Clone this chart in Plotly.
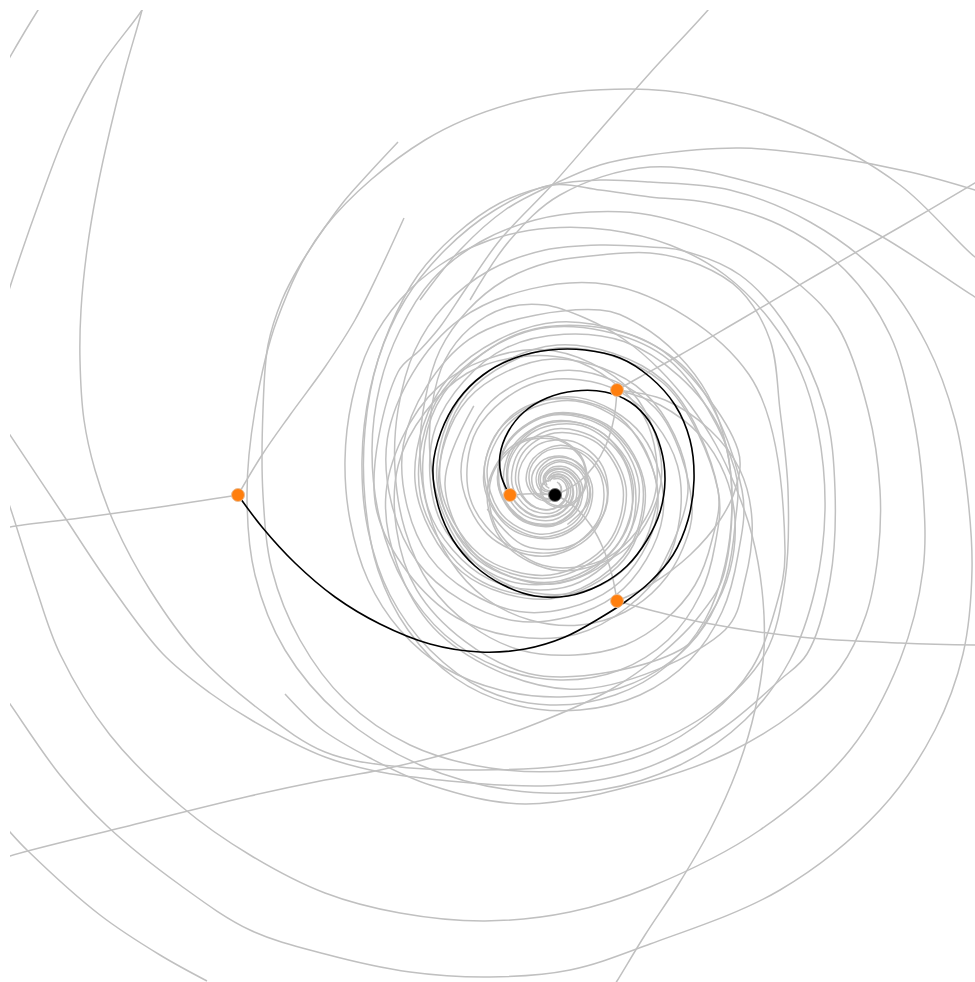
import math
import plotly.graph_objects as go

# Hub and highlighted stops (pixel-space data: x to the right, y downward)
HUB_X, HUB_Y = 555, 495
STOP_X = [238, 510, 617, 617]
STOP_Y = [495, 495, 390, 601]

# Highlighted route, winding inward from the outer stop
ROUTE_X = [238, 262, 295, 335, 380, 430, 480, 525, 565, 600, 625, 650, 673, 688, 694, 690, 675, 650,
           620, 585, 550, 515, 483, 458, 441, 433, 438, 453, 475, 503, 535, 568, 600, 627, 647, 660,
           665, 661, 649, 630, 605, 575, 547, 524, 508, 500, 501, 507]
ROUTE_Y = [495, 527, 563, 597, 624, 644, 652, 649, 637, 618, 602, 582, 555, 520, 480, 440, 405, 377,
           358, 350, 350, 358, 375, 400, 432, 467, 505, 540, 566, 585, 596, 596, 585, 566, 540, 512,
           480, 449, 421, 402, 392, 391, 398, 412, 432, 455, 475, 490]

# Short connectors from stops onto the route
LINK_X = [[617, 617], [617, 624]]
LINK_Y = [[390, 396], [601, 603]]

# Centre that the inner windings curl around
EYE_X, EYE_Y = 553, 485

# Gray trails: waypoints, then an optional inward winding
# (turn direction, radius every 45 degrees past the last waypoint)
TRAILS = [
    # top-left corner
    ([50, 38, 24, 10, 0], [-10, 10, 33, 57, 75], None),
    ([152, 142, 100, 67, 40, 10, 0], [-8, 10, 67, 130, 200, 287, 320], None),
    # long trail down the left side, into the 788 ring
    ([146, 142, 125, 110, 97, 87, 81, 80, 84, 95, 115, 150, 197, 260, 325, 400, 480, 560, 640,
      710, 765, 785, 788, 780, 770, 740, 700, 650, 600, 550, 505, 468, 440, 425, 420, 428, 450,
      485, 530, 580, 625, 660, 683, 692],
     [-10, 10, 70, 130, 190, 250, 310, 360, 420, 470, 525, 590, 654, 710, 752, 767, 770, 766, 748,
      712, 654, 580, 490, 410, 340, 290, 265, 253, 255, 262, 280, 310, 350, 400, 455, 510, 560,
      598, 620, 625, 612, 585, 548, 505],
     (1, [128, 116, 104, 93, 82, 72, 63, 55, 47, 40, 33, 27, 21, 16, 12, 8, 5])),
    # from the left edge, into the 835 ring
    ([0, 10, 60, 110, 163, 210, 253, 325, 380, 440, 500, 560, 640, 720, 780, 807, 830, 835, 825,
      787, 740, 680, 650, 600, 545, 490, 445, 415, 398, 395, 405, 430, 470, 520, 575, 625, 665,
      695, 712, 718],
     [420, 435, 510, 585, 654, 693, 721, 757, 772, 780, 785, 785, 770, 730, 680, 654, 580, 490, 410,
      327, 275, 250, 247, 245, 250, 270, 305, 350, 410, 470, 530, 585, 625, 650, 655, 645, 620,
      585, 540, 490],
     (1, [152, 140, 128, 116, 104, 93, 83, 73, 64, 56, 48, 41, 34, 28, 22, 17, 12, 8, 5])),
    # outer trail: left edge, bottom, up the 923 ring
    ([0, 10, 35, 60, 110, 182, 250, 325, 400, 485, 570, 650, 760, 850, 900, 923, 923, 912, 890,
      845, 780, 710, 650, 600, 552, 495, 445, 405, 378, 365, 365, 378, 408, 455, 515, 580, 640,
      690, 722, 738, 742],
     [480, 507, 585, 654, 735, 807, 855, 893, 913, 921, 912, 887, 830, 750, 660, 570, 490, 410, 335,
      270, 225, 203, 197, 190, 185, 210, 250, 300, 360, 430, 500, 570, 630, 678, 705, 710, 695,
      660, 612, 555, 490],
     (1, [176, 163, 150, 138, 126, 114, 103, 92, 82, 72, 63, 55, 47, 40, 33, 27, 21, 16, 12, 8, 5])),
    # outermost trail: bottom edge, up the 967 ring
    ([0, 10, 60, 107, 180, 250, 325, 410, 490, 570, 650, 780, 880, 935, 963, 972, 967, 955, 927,
      880, 810, 730, 650, 600, 552, 500, 455, 418, 390, 370, 362, 368, 390, 430, 485, 550, 615,
      668, 705, 725, 732, 726, 708, 678, 640, 600],
     [690, 704, 775, 826, 885, 930, 954, 972, 977, 970, 944, 890, 810, 730, 654, 570, 490, 420, 345,
      275, 222, 190, 182, 180, 185, 203, 235, 275, 327, 390, 460, 530, 595, 650, 690, 705, 695,
      665, 620, 565, 500, 445, 395, 355, 325, 310],
     (1, [168, 155, 143, 131, 119, 108, 97, 87, 77, 68, 59, 51, 43, 36, 30, 24, 18, 13, 9, 6])),
    # 880 ring, from a free end at lower left
    ([285, 320, 370, 430, 525, 650, 730, 795, 840, 866, 878, 880, 868, 838, 800, 740, 650, 590,
      535, 480, 432, 400, 380, 372, 380, 405, 445, 500, 560, 620, 668, 700, 715, 718],
     [694, 728, 758, 785, 804, 781, 752, 712, 668, 615, 555, 490, 410, 327, 285, 245, 215, 212,
      220, 242, 280, 330, 385, 450, 520, 585, 635, 668, 680, 670, 640, 595, 545, 490],
     (1, [150, 137, 125, 113, 101, 90, 80, 70, 61, 52, 44, 37, 30, 24, 18, 13, 9, 6])),
    # wide arc across the top, into the 825 ring
    ([985, 975, 900, 800, 700, 630, 525, 425, 325, 277, 255, 247, 255, 285, 340, 420, 510, 600,
      680, 745, 790, 815, 825, 818, 800, 770, 725, 670, 610, 550, 490, 440, 400, 370, 352, 345,
      350, 368, 400, 445, 500, 560, 620, 670, 705, 726, 735, 735],
     [262, 257, 185, 128, 96, 89, 100, 140, 227, 320, 410, 495, 575, 650, 715, 765, 790, 790, 765,
      720, 660, 590, 510, 430, 370, 320, 275, 245, 230, 228, 240, 265, 300, 345, 400, 460, 520,
      580, 630, 668, 690, 697, 688, 662, 625, 578, 525, 470],
     (1, [170, 157, 145, 133, 121, 110, 99, 89, 79, 70, 61, 53, 45, 38, 31, 25, 19, 14, 10, 6])),
    # short arc from upper left, into the inner left ring
    ([398, 370, 345, 325, 300, 282, 268, 263, 263, 272, 300, 345, 410, 490, 575, 650, 710, 752,
      775, 785],
     [142, 172, 200, 227, 265, 300, 345, 410, 495, 570, 640, 700, 745, 768, 770, 752, 715, 668,
      610, 550],
     (1, [225, 208, 190, 172, 156, 141, 127, 114, 102, 91, 81, 71, 62, 54, 46, 39, 32, 26, 20, 15, 11, 7])),
    # from the bottom edge, up the 765 column
    ([605, 617, 645, 678, 710, 737, 755, 764, 762, 752, 736, 716, 690, 660, 625, 585, 545, 505,
      470, 445, 432, 430, 440, 462, 495, 535, 575, 610, 637, 652, 657],
     [1000, 981, 935, 885, 830, 770, 710, 650, 590, 535, 488, 445, 405, 370, 340, 318, 305, 308,
      328, 360, 405, 455, 505, 548, 578, 593, 593, 580, 555, 522, 485],
     (1, [95, 86, 77, 69, 61, 53, 46, 39, 33, 27, 21, 16, 12, 8, 5])),
    # arcs fanning over the top toward the right edge
    ([420, 460, 505, 552, 600, 650, 740, 830, 910, 975, 990],
     [300, 250, 210, 185, 165, 155, 148, 157, 172, 190, 195], None),
    ([470, 510, 560, 650, 760, 870, 975, 990], [300, 240, 195, 167, 185, 230, 297, 305], None),
    # lower left
    ([0, 10, 28, 100, 160, 207], [820, 832, 851, 915, 955, 981], None),
    ([0, 10, 120, 250, 325, 380, 460, 540, 610, 660, 700, 725],
     [860, 856, 828, 796, 780, 770, 750, 722, 690, 655, 615, 570],
     (1, [176, 160, 145, 131, 118, 106, 95, 85, 75, 66, 57, 49, 42, 35, 28, 22, 17, 12, 8])),
    # long diagonal from the top edge
    ([720, 708, 650, 600, 552, 500, 465, 440, 420, 398],
     [-5, 10, 73, 130, 185, 240, 290, 327, 350, 372],
     (1, [178, 164, 151, 138, 126, 115, 104, 94, 84, 75, 66, 57, 49, 42, 35, 28, 22, 17, 12, 8])),
    # spokes leaving the stops
    ([985, 975, 900, 820, 740, 680, 640, 617], [177, 183, 227, 273, 320, 355, 377, 390], None),
    ([0, 10, 80, 160, 238], [530, 527, 518, 507, 495], None),
    ([238, 262, 290, 325, 355, 380, 404], [495, 455, 415, 367, 320, 270, 218], None),
    ([985, 975, 900, 800, 700, 650, 617], [645, 645, 643, 637, 622, 610, 601], None),
    ([617, 660, 700, 725, 735, 730, 710, 680], [390, 405, 435, 475, 520, 570, 615, 650],
     (-1, [190, 172, 156, 141, 127, 114, 102, 91, 81, 71, 62, 53, 45, 38, 31, 25, 19, 14, 10, 6])),
    ([617, 665, 710, 740, 752, 745, 725], [390, 400, 430, 470, 520, 580, 630],
     (-1, [205, 186, 168, 151, 136, 122, 109, 97, 86, 76, 66, 57, 49, 41, 34, 28, 22, 17, 12, 8])),
    ([617, 650, 690, 720, 735, 738], [601, 585, 555, 520, 490, 450],
     (1, [172, 156, 141, 127, 114, 102, 91, 80, 70, 61, 52, 44, 37, 30, 24, 18, 13, 9, 6])),
    # spokes into the hub
    ([617, 614, 606, 594, 580, 566, 555], [390, 418, 445, 466, 481, 490, 495], None),
    ([617, 612, 603, 592, 578, 565, 555], [601, 575, 548, 527, 510, 500, 495], None),
    ([510, 525, 540, 555], [495, 494, 494, 495], None),
]

# Loose inner windings: start angle (deg, counter-clockwise on screen), radius every 45 degrees
SPIRALS = [
    (315, [140, 135, 130, 126, 121, 114, 106, 97, 88, 80, 72, 64, 56, 49, 42, 35, 29, 23, 17, 12, 8]),
    (135, [112, 108, 104, 99, 93, 86, 78, 70, 62, 55, 48, 41, 35, 29, 23, 18, 13, 9]),
    (200, [70, 67, 63, 58, 53, 48, 43, 37, 32, 27, 22, 17, 13, 9, 6]),
    (290, [42, 39, 35, 31, 27, 23, 19, 15, 12, 9, 6]),
]


def polar_points(a0, step, radii):
    xs, ys = [], []
    for i, r in enumerate(radii):
        a = math.radians(a0 + step * i)
        xs.append(EYE_X + r * math.cos(a))
        ys.append(EYE_Y - r * math.sin(a))
    return xs, ys


GRAY = "rgb(192,192,192)"
fig = go.Figure()

for xs, ys, tail in TRAILS:
    xs, ys = list(xs), list(ys)
    if tail:
        turn, radii = tail
        a_end = math.degrees(math.atan2(EYE_Y - ys[-1], xs[-1] - EYE_X))
        tx, ty = polar_points(a_end + 45 * turn, 45 * turn, radii)
        xs += tx
        ys += ty
    fig.add_trace(go.Scatter(x=xs, y=ys, mode="lines",
                             line=dict(color=GRAY, width=1.5, shape="spline", smoothing=1.0),
                             hoverinfo="skip", showlegend=False))

for a0, radii in SPIRALS:
    xs, ys = polar_points(a0, 45, radii)
    fig.add_trace(go.Scatter(x=xs, y=ys, mode="lines",
                             line=dict(color=GRAY, width=1.5, shape="spline", smoothing=1.0),
                             hoverinfo="skip", showlegend=False))

fig.add_trace(go.Scatter(x=ROUTE_X, y=ROUTE_Y, mode="lines",
                         line=dict(color="black", width=1.6, shape="spline", smoothing=1.0),
                         hoverinfo="skip", showlegend=False))
for xs, ys in zip(LINK_X, LINK_Y):
    fig.add_trace(go.Scatter(x=xs, y=ys, mode="lines", line=dict(color="black", width=1.6),
                             hoverinfo="skip", showlegend=False))

fig.add_trace(go.Scatter(x=STOP_X, y=STOP_Y, mode="markers",
                         marker=dict(size=13, color="rgb(255,127,14)",
                                     line=dict(color="rgb(235,190,150)", width=1)),
                         hoverinfo="skip", showlegend=False))
fig.add_trace(go.Scatter(x=[HUB_X], y=[HUB_Y], mode="markers",
                         marker=dict(size=13, color="black", line=dict(color="rgb(120,120,120)", width=1)),
                         hoverinfo="skip", showlegend=False))

fig.update_layout(
    width=975, height=982,
    margin=dict(l=10, r=0, t=10, b=0),
    paper_bgcolor="white", plot_bgcolor="white",
    xaxis=dict(range=[10, 975], visible=False, fixedrange=True),
    yaxis=dict(range=[982, 10], visible=False, fixedrange=True),
)
fig.write_html("out.html")
